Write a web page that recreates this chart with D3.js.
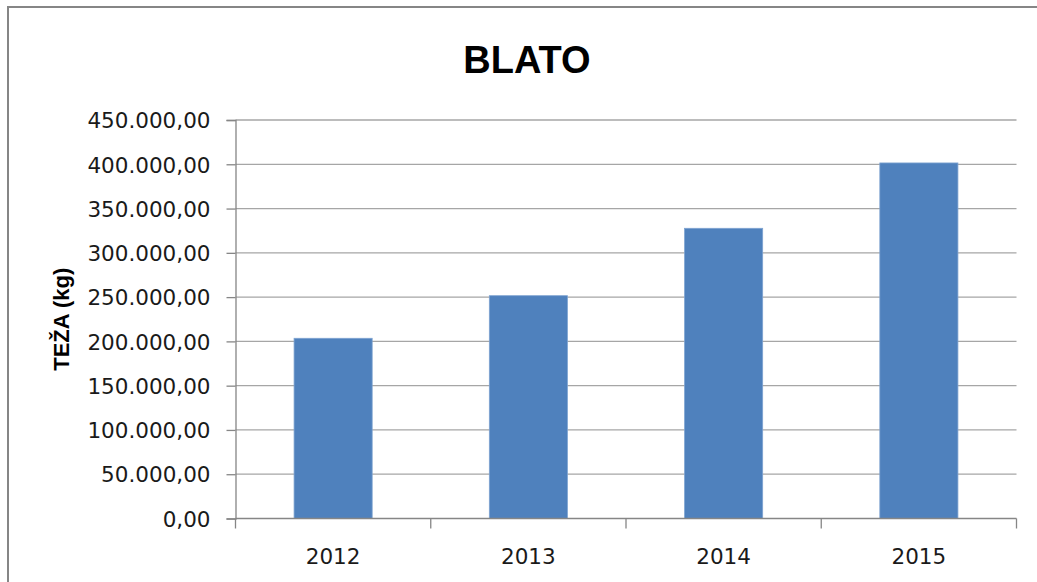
<!DOCTYPE html>
<html><head><meta charset="utf-8">
<script src="https://cdn.jsdelivr.net/npm/d3@7"></script>
<style>html,body{margin:0;padding:0;background:#fff;overflow:hidden}</style>
</head><body>
<svg id="c" width="1037" height="582"></svg>
<script>
const years = ["2012", "2013", "2014", "2015"];
const weights = [203500, 251600, 327700, 401500];
const yTicks = [0, 50000, 100000, 150000, 200000, 250000, 300000, 350000, 400000, 450000];
const titleText = "BLATO";
const yLabel = "TEŽA (kg)";

const svg = d3.select("#c");
const pL = 235.5, pR = 1016.5, pT = 120, pB = 518.5;

svg.append("rect").attr("x", 8).attr("y", 7).attr("width", 1100).attr("height", 700)
  .attr("fill", "#fff").attr("stroke", "#868686").attr("stroke-width", 2);

const x = d3.scaleBand().domain(years).range([pL, pR]).paddingInner(0.6).paddingOuter(0.3);
const y = d3.scaleLinear().domain([0, 450000]).range([pB, pT]);

const fmt = v => {
  const s = d3.format(",.2f")(v);
  return s.replace(/,/g, "#").replace(".", ",").replace(/#/g, ".");
};

// gridlines
svg.append("g").selectAll("line").data(yTicks.filter(d => d > 0)).join("line")
  .attr("x1", pL).attr("x2", pR).attr("y1", d => y(d)).attr("y2", d => y(d))
  .attr("stroke", "#a6a6a6").attr("stroke-width", 1.3);

// y axis
const ya = svg.append("g").attr("transform", `translate(${pL},0)`)
  .call(d3.axisLeft(y).tickValues(yTicks).tickFormat(fmt).tickSize(9).tickPadding(16));
ya.select(".domain").attr("stroke", "#868686").attr("stroke-width", 1.3);
ya.selectAll(".tick line").attr("stroke", "#868686").attr("stroke-width", 1.3);
ya.selectAll("text").attr("font-family", "DejaVu Sans").attr("font-size", 21.5).attr("fill", "#1a1a1a").attr("dy", "0.36em");

// bars
svg.append("g").selectAll("rect").data(years).join("rect")
  .attr("x", d => x(d)).attr("width", x.bandwidth())
  .attr("y", (d, i) => y(weights[i])).attr("height", (d, i) => y(0) - y(weights[i]))
  .attr("fill", "#4f81bd").attr("stroke", "#7ea3d1").attr("stroke-width", 0.8);

// x axis
const xa = svg.append("g").attr("transform", `translate(0,${pB})`);
xa.append("line").attr("x1", pL).attr("x2", pR).attr("stroke", "#868686").attr("stroke-width", 1.3);
const edges = [pL].concat(years.map((d, i) => pL + (i + 1) * (pR - pL) / years.length));
xa.selectAll("line.t").data(edges).join("line").attr("class", "t")
  .attr("x1", d => d).attr("x2", d => d).attr("y1", 0).attr("y2", 10)
  .attr("stroke", "#868686").attr("stroke-width", 1.3);
xa.selectAll("text").data(years).join("text")
  .attr("x", d => x(d) + x.bandwidth() / 2).attr("y", 45)
  .attr("text-anchor", "middle").attr("font-family", "DejaVu Sans").attr("font-size", 21.5).attr("fill", "#1a1a1a")
  .text(d => d);

// title
svg.append("text").attr("x", 527).attr("y", 73).attr("text-anchor", "middle")
  .attr("font-family", "Liberation Sans, Arial").attr("font-weight", "bold").attr("font-size", 38)
  .text(titleText);

// y label
svg.append("text").attr("transform", `translate(69,${(pT + pB) / 2}) rotate(-90)`)
  .attr("text-anchor", "middle").attr("font-family", "Liberation Sans, Arial").attr("font-weight", "bold").attr("font-size", 22)
  .text(yLabel);
</script>
</body></html>
